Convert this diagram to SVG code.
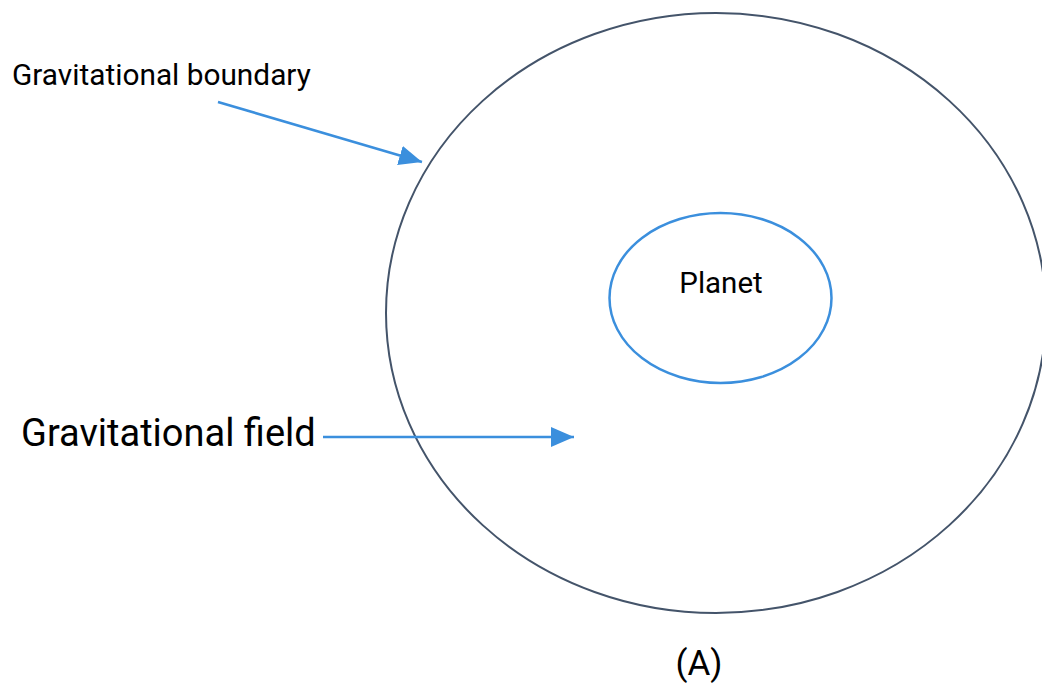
<svg xmlns="http://www.w3.org/2000/svg" width="1042" height="685" viewBox="0 0 1042 685">
  <defs>
    <style>
      .lbl { font-family: Roboto, "Liberation Sans", sans-serif; fill: #000; }
      .conn { stroke: #3b8fdd; stroke-width: 2.5; fill: none; }
    </style>
    <marker id="ah" markerUnits="userSpaceOnUse" markerWidth="24" markerHeight="22" refX="23" refY="10" orient="auto">
      <path d="M0,0 L23,10 L0,20 Z" fill="#3b8fdd"/>
    </marker>
  </defs>
  <rect width="1042" height="685" fill="#fff"/>
  <g id="boundary">
    <ellipse cx="716" cy="313" rx="330" ry="300" fill="none" stroke="#44546a" stroke-width="2"/>
  </g>
  <g id="planet">
    <ellipse cx="720.5" cy="298" rx="111" ry="85" fill="none" stroke="#3b8fdd" stroke-width="2.5"/>
    <text class="lbl" x="721" y="293" font-size="29.5" text-anchor="middle">Planet</text>
  </g>
  <g id="label-boundary">
    <text class="lbl" x="12" y="85" font-size="29.8">Gravitational boundary</text>
  </g>
  <g id="label-field">
    <text class="lbl" x="21" y="446" font-size="38">Gravitational field</text>
  </g>
  <g id="caption">
    <text class="lbl" x="699" y="675" font-size="35" text-anchor="middle">(A)</text>
  </g>
  <g id="connectors">
    <path class="conn" d="M218,102 L422,162" marker-end="url(#ah)"/>
    <path class="conn" d="M323,437 L574,437" marker-end="url(#ah)"/>
  </g>
</svg>
